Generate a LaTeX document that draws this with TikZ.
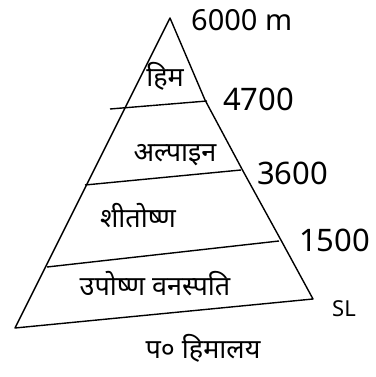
\documentclass[tikz,border=0pt]{standalone}
\usepackage{fontspec}
\setmainfont{Noto Sans}
\newfontfamily\hindifont[Script=Devanagari]{Noto Sans}
\usepackage{tikz}
\usetikzlibrary{positioning,calc}

\begin{document}
\begin{tikzpicture}[x=1pt,y=-1pt,
    edge/.style={draw, line width=1.4pt, line join=round},
    zone/.style={font=\hindifont\fontsize{27}{30}\selectfont, inner sep=1pt},
    height/.style={font=\fontsize{31}{34}\selectfont, inner sep=0pt, anchor=west}
  ]
  \useasboundingbox (0,0) rectangle (375,377);
  % pyramid outline
  \coordinate (top) at (170,18);
  \coordinate (bl) at (15,328);
  \coordinate (br) at (313,299);
  \draw[edge] (bl) -- (top) -- (205,100) -- (243,171) -- (282,242) -- (br) -- cycle;
  % zone boundaries
  \coordinate (l1a) at (110,109); \coordinate (l1b) at (207,101);
  \coordinate (l2a) at (85,185);  \coordinate (l2b) at (241,170);
  \coordinate (l3a) at (47,267);  \coordinate (l3b) at (279,241);
  \draw[edge] (l1a) -- (l1b);
  \draw[edge] (l2a) -- (l2b);
  \draw[edge] (l3a) -- (l3b);

  \node[zone] (him) at (165,76) {हिम};
  \node[zone] (alpine) at (175,155) {अल्पाइन};
  \node[zone] (temperate) at (138,216) {शीतोष्ण};
  \node[zone] (subtrop) at (155,284) {उपोष्ण वनस्पति};
  \node[zone] (west) at (203,348) {प० हिमालय};

  \node[height, font=\fontsize{29}{32}\selectfont] (h6000) at (191,20) {6000 m};
  \node[height] (h4700) at (223,99) {4700};
  \node[height] (h3600) at (257,173) {3600};
  \node[height] (h1500) at (299,240) {1500};
  \node[height, font=\fontsize{22}{24}\selectfont] (sl) at (332,309) {SL};
\end{tikzpicture}
\end{document}
